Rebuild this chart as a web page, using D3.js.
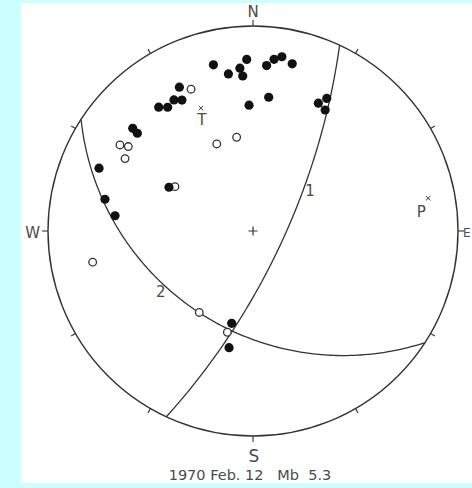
<!DOCTYPE html>
<html>
<head>
<meta charset="utf-8">
<script src="https://cdn.jsdelivr.net/npm/d3@7"></script>
<style>
  html, body { margin: 0; padding: 0; background: #ccffff; }
  svg { display: block; }
  text { font-family: "DejaVu Sans", "Liberation Sans", sans-serif; fill: #4a4a4a; }
</style>
</head>
<body>
<svg id="chart" width="472" height="488"></svg>
<script>
// First-motion polarities: [station azimuth (deg), take-off angle (deg)]
const compressions = [
  [346.6, 79.6], [357.9, 79.9], [351.1, 75.6], [355.4, 77.1], [356.2, 74.3],
  [4.7, 78.0], [7.0, 80.3], [9.4, 81.5], [13.2, 79.9],
  [332.9, 76.5], [322.7, 74.4], [325.4, 72.5], [328.9, 73.5], [331.5, 72.0],
  [358.2, 63.1], [6.7, 66.6],
  [27.1, 70.0], [29.1, 73.0], [30.8, 69.0],
  [310.5, 75.3], [310.2, 72.9],
  [292.2, 78.1], [297.5, 49.6], [282.1, 72.9], [276.3, 68.2],
  [193.0, 49.6], [191.6, 60.3]
];
const dilatations = [
  [336.4, 74.1], [337.4, 49.4], [350.1, 49.8],
  [302.9, 75.4], [304.1, 72.6], [299.5, 71.3],
  [299.6, 47.3], [259.0, 77.1], [213.4, 50.9], [194.2, 54.0]
];
// Nodal planes: strike / dip (deg), dip to the right of strike
const planeNames = ["1", "2"];
const planeStrikes = [25, 123];
const planeDips = [73, 39];
// Principal axes: trend / plunge (deg)
const axisNames = ["P", "T"];
const axisTrends = [79.4, 337.0];
const axisPlunges = [8.0, 23.9];
const compassLabels = ["N", "E", "S", "W"];
const caption = "1970 Feb. 12   Mb  5.3";

const svg = d3.select("#chart");
const W = 472, H = 488;
const cx = 253, cy = 231, R = 205;
const rad = Math.PI / 180;

// panel
svg.append("rect").attr("x", 21).attr("y", 3).attr("width", W - 21).attr("height", 480).attr("fill", "#fff");

const xS = d3.scaleLinear().domain([-1, 1]).range([cx - R, cx + R]);
const yS = d3.scaleLinear().domain([-1, 1]).range([cy + R, cy - R]);

// lower-hemisphere stereographic projection of a direction
function project(trend, plunge) {
  const r = Math.tan((90 - plunge) * rad / 2);
  return [xS(r * Math.sin(trend * rad)), yS(r * Math.cos(trend * rad))];
}
// point on a nodal plane, a degrees clockwise from its strike
function planePoint(i, a) {
  const plunge = Math.atan(Math.tan(planeDips[i] * rad) * Math.sin(a * rad)) / rad;
  return project(planeStrikes[i] + a, plunge);
}

const ink = "#333";
const g = svg.append("g");

// primitive circle
g.append("circle").attr("cx", xS(0)).attr("cy", yS(0)).attr("r", xS(1) - xS(0))
  .attr("fill", "none").attr("stroke", ink).attr("stroke-width", 1.4);

// azimuth ticks every 30 deg, pointing outward
d3.range(0, 360, 30).forEach(a => {
  const len = a % 90 === 0 ? 6 : 5;
  const s = Math.sin(a * rad), c = Math.cos(a * rad);
  g.append("line")
    .attr("x1", xS(s)).attr("y1", yS(c))
    .attr("x2", xS(s * (1 + len / R))).attr("y2", yS(c * (1 + len / R)))
    .attr("stroke", ink).attr("stroke-width", 1.1);
});

// compass letters
const compassPos = {
  N: { x: xS(0), y: yS(1) - 9, anchor: "middle", size: 15 },
  E: { x: xS(1) + 5, y: yS(0) + 6, anchor: "start", size: 12 },
  S: { x: xS(0) + 1, y: yS(-1) + 26, anchor: "middle", size: 17 },
  W: { x: xS(-1) - 8, y: yS(0) + 7, anchor: "end", size: 15 }
};
compassLabels.forEach(k => {
  const p = compassPos[k];
  g.append("text").attr("x", p.x).attr("y", p.y).attr("text-anchor", p.anchor)
    .attr("font-size", p.size).text(k);
});

// nodal planes as great circles
const line = d3.line();
planeStrikes.forEach((strike, i) => {
  const pts = d3.range(0, 180.5, 1).map(a => planePoint(i, a));
  g.append("path").attr("d", line(pts)).attr("fill", "none")
    .attr("stroke", ink).attr("stroke-width", 1.3);
});

// plane labels beside the curves
const planeLabelPos = [ { a: 26, dx: 7, dy: 6 }, { a: 118, dx: 0, dy: 15 } ];
planeNames.forEach((name, i) => {
  const [x, y] = planePoint(i, planeLabelPos[i].a);
  g.append("text").attr("x", x + planeLabelPos[i].dx).attr("y", y + planeLabelPos[i].dy)
    .attr("text-anchor", "middle").attr("font-size", 15).text(name);
});

// centre cross
g.append("path").attr("d", `M${xS(0) - 4.5},${yS(0)}h9M${xS(0)},${yS(0) - 4.5}v9`)
  .attr("stroke", ink).attr("stroke-width", 1.2);

// dilatations (open) then compressions (filled)
g.selectAll(".dil").data(dilatations).join("circle").attr("class", "dil")
  .attr("cx", d => project(d[0], 90 - d[1])[0])
  .attr("cy", d => project(d[0], 90 - d[1])[1])
  .attr("r", 3.8).attr("fill", "#fff").attr("stroke", "#333").attr("stroke-width", 1.3);
g.selectAll(".comp").data(compressions).join("circle").attr("class", "comp")
  .attr("cx", d => project(d[0], 90 - d[1])[0])
  .attr("cy", d => project(d[0], 90 - d[1])[1])
  .attr("r", 4.6).attr("fill", "#111");

// P and T axes
const axisLabelOffset = { P: [-7, 19], T: [1, 17] };
axisNames.forEach((name, i) => {
  const [x, y] = project(axisTrends[i], axisPlunges[i]);
  g.append("path").attr("d", `M${x - 2.2},${y - 2.2}l4.4,4.4M${x - 2.2},${y + 2.2}l4.4,-4.4`)
    .attr("stroke", ink).attr("stroke-width", 1);
  g.append("text").attr("x", x + axisLabelOffset[name][0]).attr("y", y + axisLabelOffset[name][1])
    .attr("text-anchor", "middle").attr("font-size", 15).text(name);
});

// caption
g.append("text").attr("x", 250).attr("y", 480).attr("text-anchor", "middle")
  .attr("font-size", 14.5).style("white-space", "pre").text(caption);
</script>
</body>
</html>
